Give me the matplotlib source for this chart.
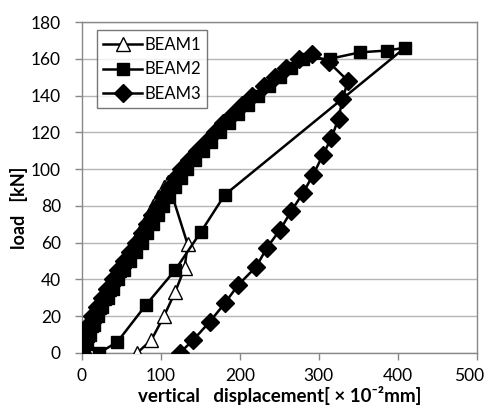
import matplotlib
matplotlib.use("Agg")
import matplotlib.pyplot as plt
import matplotlib.transforms as mtransforms

# ---- data ----
beam1_x = [0, 2, 6, 11, 16, 22, 28, 34, 40, 47, 53, 60, 66, 73, 79, 85, 90, 96, 104, 109,
           134, 130, 118, 104, 88, 70]
beam1_y = [0, 5, 10, 15, 20, 25, 30, 35, 40, 45, 50, 55, 60, 65, 70, 75, 80, 85, 90, 93,
           59, 46, 33, 20, 7, 0]

beam2_x = [0, 6, 10, 15, 20, 26, 33, 39, 46, 53, 61, 68, 76, 83, 90, 96, 103, 110, 118,
           125, 133, 143, 153, 164, 175, 186, 198, 210, 223, 237, 251, 265, 280,
           314, 352, 386, 409,
           181, 151, 118, 81, 45, 22]
beam2_y = [0, 5, 10, 15, 20, 25, 30, 35, 40, 45, 50, 55, 60, 65, 70, 75, 80, 85, 90,
           95, 100, 105, 110, 115, 120, 125, 130, 135, 140, 145, 150, 155, 160,
           160, 163.5, 164.5, 166,
           86, 66, 45, 26, 6, 0]

beam3_x = [0, 1, 4, 8, 13, 19, 26, 32, 39, 46, 54, 61, 69, 76, 83, 89, 96, 103, 111,
           118, 126, 136, 146, 157, 168, 179, 191, 203, 216, 230, 244, 259, 275, 291,
           313, 337, 330, 325, 316, 305, 293, 280, 265, 251, 234, 221, 198, 181, 162, 141, 124]
beam3_y = [0, 5, 10, 15, 20, 25, 30, 35, 40, 45, 50, 55, 60, 65, 70, 75, 80, 85, 90,
           95, 100, 105, 110, 115, 120, 125, 130, 135, 140, 145, 150, 155, 160, 162.5,
           158, 148, 138, 127.5, 117, 107.5, 97, 87, 77, 67, 57, 47, 37, 27, 17, 7, 0]

x_ticks = [0, 100, 200, 300, 400, 500]
y_ticks = [0, 20, 40, 60, 80, 100, 120, 140, 160, 180]

plt.rcParams['font.family'] = ['Lato', 'DejaVu Sans']

fig = plt.figure(figsize=(4.9, 4.08), dpi=100)
ax = fig.add_axes([0.167, 0.135, 0.806, 0.811])

lw = 1.8
ax.plot(beam1_x, beam1_y, color='black', lw=lw, marker='^', ms=10,
        mfc='white', mec='black', mew=1.0, label='BEAM1', zorder=3)
ax.plot(beam2_x, beam2_y, color='black', lw=lw, marker='s', ms=8.5,
        mfc='black', mec='black', label='BEAM2', zorder=4)
ax.plot(beam3_x, beam3_y, color='black', lw=lw, marker='D', ms=9,
        mfc='black', mec='black', label='BEAM3', zorder=5)

ax.set_xlim(0, 500)
ax.set_ylim(0, 180)
ax.set_xticks(x_ticks)
ax.set_yticks(y_ticks)
ax.tick_params(axis='both', labelsize=12.5, color='#888888', length=5, width=1,
               direction='out')
ax.tick_params(axis='y', pad=10)
ax.tick_params(axis='x', pad=6)
ax.yaxis.grid(True, color='#b5b5b5', lw=1)
ax.set_axisbelow(True)
for s in ax.spines.values():
    s.set_color('#888888')
    s.set_linewidth(1)

# keep the last x tick label inside the figure
fig.canvas.draw()
lbl = ax.get_xticklabels()[-1]
lbl.set_transform(lbl.get_transform() +
                  mtransforms.ScaledTranslation(-8 / 100, 0, fig.dpi_scale_trans))

ax.set_xlabel('vertical   displacement[ × 10⁻²mm]', fontsize=13.5, fontweight='bold', labelpad=1)
ax.set_ylabel('load   [kN]', fontsize=13, fontweight='bold')
ax.yaxis.set_label_coords(-0.137, 0.44)

leg = ax.legend(loc='upper left', bbox_to_anchor=(0.025, 0.99), fontsize=12,
                frameon=True, fancybox=False, edgecolor='#555555', handlelength=2.3,
                handletextpad=0.15, borderpad=0.4, labelspacing=0.5, borderaxespad=0.3)
leg.get_frame().set_linewidth(1)

fig.savefig('out.png', dpi=100)
